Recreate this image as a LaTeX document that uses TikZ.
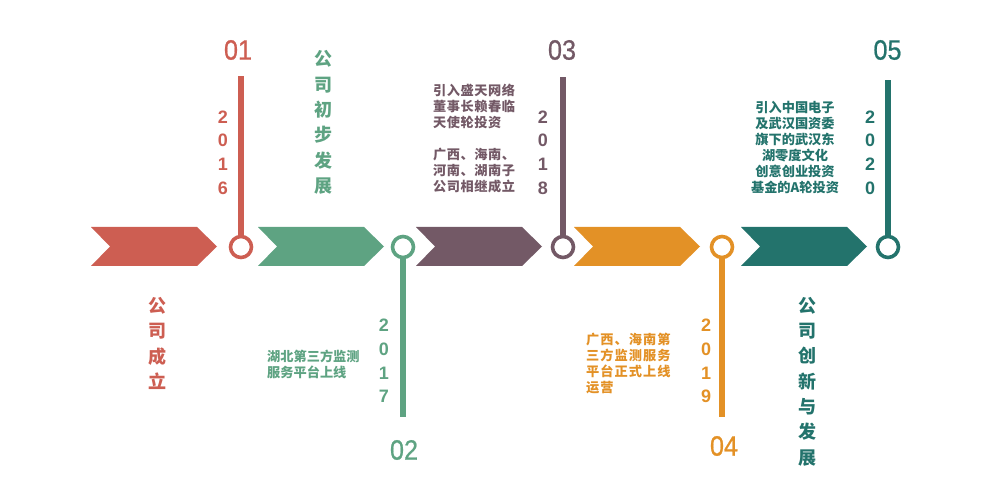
\documentclass[tikz,border=0pt]{standalone}
\usepackage{fontspec}
\setmainfont{Liberation Sans}
\newfontfamily\cjk{Noto Sans CJK SC}
\newfontfamily\numfont[FakeBold=0.8]{Liberation Sans}
\definecolor{cred}{RGB}{205,94,82}
\definecolor{cgreen}{RGB}{94,163,130}
\definecolor{cpurple}{RGB}{115,89,102}
\definecolor{corange}{RGB}{227,145,38}
\definecolor{cteal}{RGB}{35,115,108}
\begin{document}
\begin{tikzpicture}[x=1pt,y=-1pt,
  ring/.style={draw=#1,line width=3.6pt,fill=white,circle,minimum size=21pt,inner sep=0pt},
  stem/.style={draw=#1,line width=6pt},
  bignum/.style={text=#1,font=\numfont\fontsize{28}{28}\selectfont,inner sep=0pt,xscale=0.9},
  year/.style={text=#1,font=\bfseries\fontsize{18}{23.7}\selectfont,align=center,inner sep=0pt},
  vtitle/.style={text=#1,font=\cjk\bfseries\fontsize{18}{25.3}\selectfont,align=center,inner sep=0pt},
  para/.style={text=#1,font=\cjk\bfseries\fontsize{13.2}{16}\selectfont,inner sep=0pt}]
\useasboundingbox (0,0) rectangle (997,481);
% chevrons
\foreach \L/\c [count=\i] in {91/cred,258/cgreen,416/cpurple,574/corange,741/cteal}{
  \fill[\c] (\L,227) -- (\L+106,227) -- (\L+126,246.5) -- (\L+106,266) -- (\L,266) -- (\L+19,246.5) -- cycle;
}
% rings
\node[ring=cred]    (c1) at (241,247) {};
\node[ring=cgreen]  (c2) at (403,247) {};
\node[ring=cpurple] (c3) at (563,247) {};
\node[ring=corange] (c4) at (722,247) {};
\node[ring=cteal]   (c5) at (888,247) {};
% stem ends
\coordinate (e1) at (241,76);
\coordinate (e2) at (403,417);
\coordinate (e3) at (563,77);
\coordinate (e4) at (722,417);
\coordinate (e5) at (888,80);
\draw[stem=cred]    (c1.north) -- (e1);
\draw[stem=cgreen]  (c2.south) -- (e2);
\draw[stem=cpurple] (c3.north) -- (e3);
\draw[stem=corange] (c4.south) -- (e4);
\draw[stem=cteal]   (c5.north) -- (e5);
% numbers
\node[bignum=cred]    (n1) at (238,50) {01};
\node[bignum=cgreen]  (n2) at (404,450) {02};
\node[bignum=cpurple] (n3) at (562,50) {03};
\node[bignum=corange] (n4) at (724,446) {04};
\node[bignum=cteal]   (n5) at (887.5,50) {05};
% years
\node[year=cred]    (y1) at (223,152.5) {2\\0\\1\\6};
\node[year=cgreen]  (y2) at (384,361) {2\\0\\1\\7};
\node[year=cpurple] (y3) at (543,152.5) {2\\0\\1\\8};
\node[year=corange] (y4) at (706,361) {2\\0\\1\\9};
\node[year=cteal]   (y5) at (870,152.5) {2\\0\\2\\0};
% titles
\node[vtitle=cred]   (t1) at (157,343.5) {公\\司\\成\\立};
\node[vtitle=cgreen] (t2) at (323,122.5) {公\\司\\初\\步\\发\\展};
\node[vtitle=cteal]  (t3) at (807,381.5) {公\\司\\创\\新\\与\\发\\展};
% paragraphs
\node[para=cgreen,anchor=west,align=left] (p2) at (267,364) {湖北第三方监测\\服务平台上线};
\node[para=cpurple,anchor=west,align=left,font=\cjk\bfseries\fontsize{13.2}{16}\selectfont\addfontfeature{LetterSpace=4}] (p3) at (433,138) {引入盛天网络\\董事长赖春临\\天使轮投资\\[16pt]广西、海南、\\河南、湖南子\\公司相继成立};
\node[para=corange,anchor=west,align=left,font=\cjk\bfseries\fontsize{13.2}{16}\selectfont\addfontfeature{LetterSpace=8}] (p4) at (586,364) {广西、海南第\\三方监测服务\\平台正式上线\\运营};
\node[para=cteal,align=center] (p5) at (795,147) {引入中国电子\\及武汉国资委\\旗下的武汉东\\湖零度文化\\创意创业投资\\基金的A轮投资};
\end{tikzpicture}
\end{document}
